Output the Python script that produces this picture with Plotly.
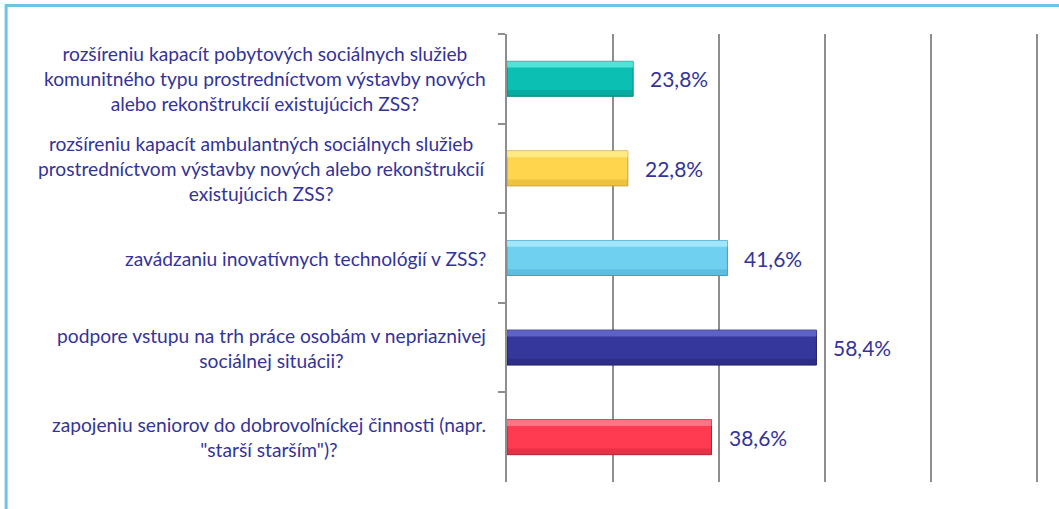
import plotly.graph_objects as go

categories = [
    "rozšíreniu kapacít pobytových sociálnych služieb<br>komunitného typu prostredníctvom výstavby nových<br>alebo rekonštrukcií existujúcich ZSS?",
    "rozšíreniu kapacít ambulantných sociálnych služieb<br>prostredníctvom výstavby nových alebo rekonštrukcií<br>existujúcich ZSS?",
    "zavádzaniu inovatívnych technológií v ZSS?",
    "podpore vstupu na trh práce osobám v nepriaznivej<br>sociálnej situácii?",
    "zapojeniu seniorov do dobrovoľníckej činnosti (napr.<br>\"starší starším\")?",
]
values = [23.8, 22.8, 41.6, 58.4, 38.6]
value_labels = ["23,8%", "22,8%", "41,6%", "58,4%", "38,6%"]

main_colors = ["#0BBFB2", "#FFD54D", "#6FD0F0", "#35379C", "#FF3B52"]
light_colors = ["#6FF2E8", "#FFF29A", "#B8F0FF", "#7073DA", "#FF8E9C"]
dark_colors = ["#07877E", "#C9A22A", "#3F9FC6", "#1F2068", "#B81F35"]

W, H = 1059, 509
L_PX, R_PX, T_PX, B_PX = 507, 1038.6, 34, 482
TEXT_COLOR = "#33339A"
FONT = "Lato, 'Open Sans', sans-serif"

BAR_W = 0.39
EDGE_W = 0.07

fig = go.Figure()
fig.add_trace(go.Bar(
    y=categories, x=values, orientation="h", width=BAR_W,
    marker=dict(color=main_colors, line=dict(color=dark_colors, width=1)),
    hoverinfo="skip", showlegend=False,
))
fig.add_trace(go.Bar(
    y=categories, x=values, orientation="h", width=EDGE_W, offset=-BAR_W / 2,
    marker=dict(color=light_colors, line=dict(width=0), opacity=0.7),
    hoverinfo="skip", showlegend=False,
))
fig.add_trace(go.Bar(
    y=categories, x=values, orientation="h", width=EDGE_W, offset=BAR_W / 2 - EDGE_W,
    marker=dict(color=dark_colors, line=dict(width=0), opacity=0.35),
    hoverinfo="skip", showlegend=False,
))

annotations = []
for cat, v, lab in zip(categories, values, value_labels):
    annotations.append(dict(
        x=v, y=cat, xref="x", yref="y", text=lab, showarrow=False,
        xanchor="left", xshift=15, font=dict(size=21, color=TEXT_COLOR, family=FONT),
    ))
    annotations.append(dict(
        x=0, y=cat, xref="paper", yref="y", text=cat, showarrow=False,
        xanchor="right", align="center", xshift=-19,
        font=dict(size=19.2, color=TEXT_COLOR, family=FONT),
    ))

plot_w = R_PX - L_PX
plot_h = B_PX - T_PX


def px_x(px):
    return (px - L_PX) / plot_w


def px_y(py):
    return (B_PX - py) / plot_h


frame_color = "#6EC3E6"
shapes = [
    dict(type="line", xref="paper", yref="paper", x0=px_x(6), x1=px_x(W + 5),
         y0=px_y(5.5), y1=px_y(5.5), line=dict(color=frame_color, width=3)),
    dict(type="line", xref="paper", yref="paper", x0=px_x(6.5), x1=px_x(6.5),
         y0=px_y(4), y1=px_y(H + 5), line=dict(color=frame_color, width=3)),
]

fig.update_layout(
    width=W, height=H,
    margin=dict(l=L_PX, r=W - R_PX, t=T_PX, b=H - B_PX, autoexpand=False),
    paper_bgcolor="white", plot_bgcolor="white",
    barmode="overlay",
    annotations=annotations, shapes=shapes,
    xaxis=dict(range=[0, 100.4], dtick=20, showgrid=True, gridcolor="#8E8E8E",
               gridwidth=1.5, showticklabels=False, zeroline=False, showline=False,
               fixedrange=True),
    yaxis=dict(autorange="reversed", showticklabels=False, ticks="outside",
               tickson="boundaries", ticklen=7, tickcolor="#8E8E8E", tickwidth=1.5,
               showline=True, linecolor="#8E8E8E", linewidth=1.5, showgrid=False,
               fixedrange=True),
)

fig.write_html(
    "out.html",
    config={"displayModeBar": False},
    post_script="document.body.style.margin='0';document.body.style.overflow='hidden';",
)
